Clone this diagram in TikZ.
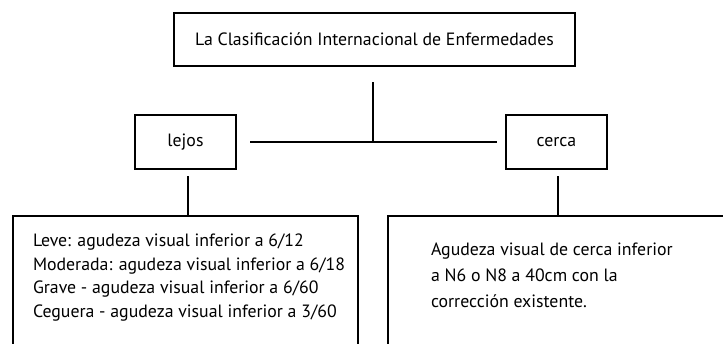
\documentclass[tikz,border=0pt]{standalone}
\usepackage{fontspec}
\setmainfont{PT Sans}
\begin{document}
\begin{tikzpicture}
        [x=0.5pt, y=-0.5pt, line width=1pt,
         caja/.style={draw=black, rectangle, inner sep=0pt, font=\fontsize{8.9}{10}\selectfont},
         texto/.style={inner sep=0pt, align=left, anchor=north west}]

        \useasboundingbox (0, 0) rectangle (723, 343);

        \node[caja, minimum width=200.5pt, minimum height=26.5pt] (cie) at (374.5, 39.5) {La Clasificación Internacional de Enfermedades};

        \node[caja, minimum width=50.5pt, minimum height=27pt] (lejos) at (185.5, 142) {lejos};
        \node[caja, minimum width=50.5pt, minimum height=27pt] (cerca) at (556.5, 142) {cerca};

        \coordinate (union) at (373, 141);

        \node[caja, minimum width=172.5pt, minimum height=100pt] (lejos-def) at (185.5, 316) {};
        \node[caja, minimum width=186pt, minimum height=100pt] (cerca-def) at (574, 316) {};

        \draw[shorten <=7.5pt] (cie.south -| union) -- (union);
        \draw[shorten <=6.5pt, shorten >=4pt] (lejos.east) -- (cerca.west);
        \draw[shorten <=3pt] (lejos.south) ++(2.5, 0) coordinate (l-sal) -- (l-sal |- lejos-def.north);
        \draw[shorten <=3pt] (cerca.south) ++(1.5, 0) coordinate (c-sal) -- (c-sal |- cerca-def.north);

        \node[texto, font=\fontsize{8.9}{11.75}\selectfont] (lejos-txt) at (32, 233) {Leve: agudeza visual inferior a 6/12\\Moderada: agudeza visual inferior a 6/18\\Grave - agudeza visual inferior a 6/60\\Ceguera - agudeza visual inferior a 3/60};
        \node[texto, font=\fontsize{8.9}{13}\selectfont] (cerca-txt) at (430, 242) {Agudeza visual de cerca inferior\\a N6 o N8 a 40cm con la\\corrección existente.};
    \end{tikzpicture}
\end{document}
